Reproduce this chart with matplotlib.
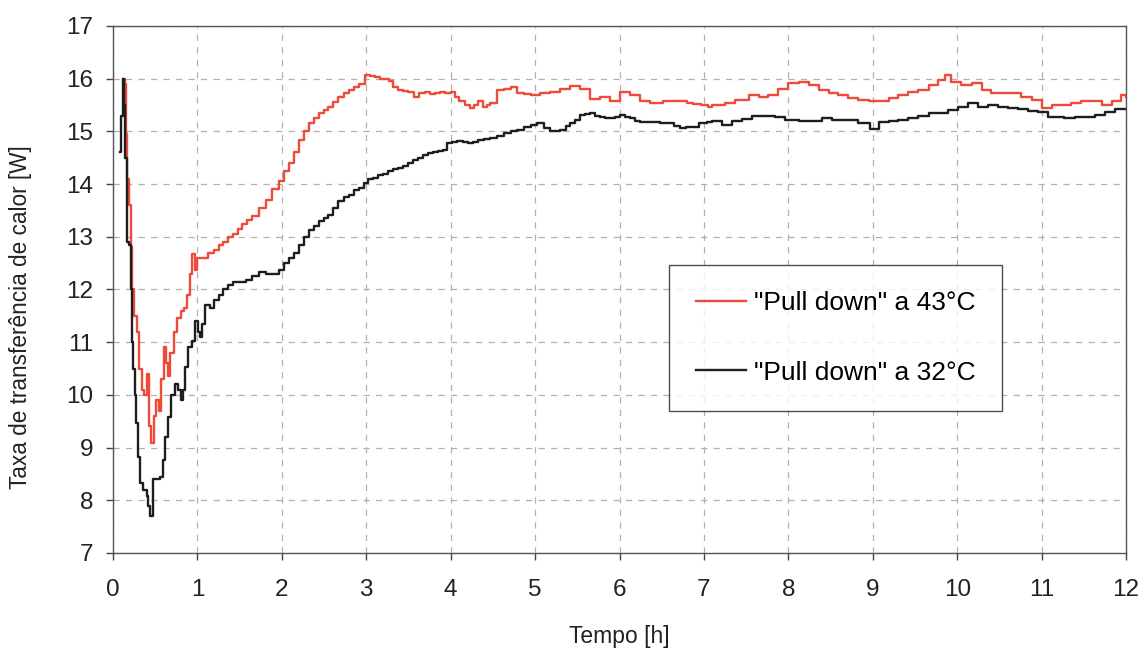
import matplotlib
matplotlib.use("Agg")
import matplotlib.pyplot as plt

plt.rcParams['font.family'] = ['Liberation Sans', 'DejaVu Sans']

# Heat transfer rate during pull down, 43 °C ambient
t_43 = [0.12, 0.14, 0.155, 0.17, 0.19, 0.21, 0.23, 0.25, 0.28, 0.31, 0.34, 0.37,
        0.40, 0.43, 0.45, 0.48, 0.51, 0.54, 0.57, 0.60, 0.63, 0.65, 0.68, 0.72,
        0.76, 0.80, 0.84, 0.88, 0.91, 0.94, 0.97, 1.00, 1.06, 1.12, 1.19, 1.25,
        1.30, 1.36, 1.42, 1.48, 1.53, 1.59, 1.65, 1.73, 1.81, 1.88, 1.96, 2.02,
        2.08, 2.14, 2.20, 2.26, 2.32, 2.38, 2.44, 2.50, 2.55, 2.61, 2.67, 2.73,
        2.79, 2.85, 2.91, 2.98, 3.04, 3.10, 3.16, 3.22, 3.27, 3.32, 3.38, 3.44,
        3.49, 3.57, 3.63, 3.69, 3.75, 3.81, 3.87, 3.93, 4.00, 4.05, 4.10, 4.17,
        4.23, 4.28, 4.32, 4.38, 4.43, 4.47, 4.55, 4.63, 4.71, 4.79, 4.87, 4.95,
        5.06, 5.18, 5.30, 5.41, 5.53, 5.65, 5.77, 5.89, 6.00, 6.12, 6.24, 6.36,
        6.52, 6.67, 6.80, 6.87, 6.97, 7.05, 7.10, 7.25, 7.37, 7.53, 7.65, 7.76,
        7.88, 8.00, 8.12, 8.24, 8.36, 8.48, 8.59, 8.71, 8.83, 8.95, 9.07, 9.19,
        9.30, 9.42, 9.54, 9.66, 9.77, 9.85, 9.93, 10.05, 10.17, 10.29, 10.40,
        10.52, 10.64, 10.76, 10.88, 11.00, 11.12, 11.23, 11.35, 11.47, 11.59,
        11.71, 11.83, 11.94, 12.00]
q_43 = [16.0, 15.9, 14.95, 14.1, 13.6, 12.8, 12.0, 11.5, 11.2, 10.5, 10.1, 10.0,
        10.4, 9.4, 9.08, 9.6, 9.9, 9.7, 10.3, 10.9, 10.6, 10.35, 10.8, 11.2,
        11.45, 11.6, 11.65, 11.9, 12.3, 12.67, 12.36, 12.6, 12.6, 12.7, 12.75, 12.85,
        12.9, 13.0, 13.05, 13.15, 13.24, 13.32, 13.4, 13.55, 13.7, 13.9, 14.05, 14.25,
        14.4, 14.6, 14.84, 15.0, 15.15, 15.25, 15.34, 15.4, 15.46, 15.55, 15.65, 15.72,
        15.78, 15.85, 15.9, 16.07, 16.05, 16.04, 16.0, 16.0, 15.95, 15.85, 15.78, 15.76,
        15.75, 15.66, 15.72, 15.75, 15.7, 15.72, 15.75, 15.72, 15.75, 15.65, 15.57, 15.5,
        15.44, 15.5, 15.57, 15.47, 15.5, 15.53, 15.78, 15.8, 15.84, 15.72, 15.7, 15.69,
        15.72, 15.75, 15.81, 15.87, 15.81, 15.62, 15.66, 15.57, 15.75, 15.69, 15.57, 15.53,
        15.57, 15.57, 15.53, 15.52, 15.5, 15.46, 15.5, 15.54, 15.6, 15.69, 15.66, 15.69,
        15.81, 15.91, 15.94, 15.88, 15.78, 15.72, 15.69, 15.63, 15.6, 15.57, 15.57, 15.63,
        15.69, 15.75, 15.78, 15.88, 15.97, 16.06, 15.94, 15.88, 15.91, 15.78, 15.72,
        15.72, 15.72, 15.66, 15.6, 15.44, 15.5, 15.5, 15.54, 15.57, 15.57,
        15.5, 15.57, 15.69, 15.65]

# Heat transfer rate during pull down, 32 °C ambient
t_32 = [0.08, 0.09, 0.115, 0.13, 0.142, 0.16, 0.17, 0.19, 0.21, 0.22, 0.24, 0.26,
        0.27, 0.30, 0.32, 0.36, 0.40, 0.42, 0.44, 0.47, 0.52, 0.56, 0.59, 0.62,
        0.65, 0.69, 0.73, 0.77, 0.80, 0.83, 0.85, 0.89, 0.93, 0.97, 1.01, 1.03,
        1.05, 1.09, 1.15, 1.20, 1.25, 1.30, 1.36, 1.42, 1.50, 1.57, 1.65, 1.73,
        1.81, 1.89, 1.96, 2.02, 2.08, 2.14, 2.20, 2.26, 2.32, 2.38, 2.44, 2.50,
        2.55, 2.61, 2.67, 2.73, 2.79, 2.85, 2.91, 2.97, 3.02, 3.08, 3.14, 3.20,
        3.26, 3.32, 3.38, 3.44, 3.49, 3.55, 3.61, 3.67, 3.73, 3.79, 3.85, 3.91,
        3.96, 4.02, 4.08, 4.14, 4.20, 4.26, 4.32, 4.40, 4.47, 4.55, 4.63, 4.71,
        4.79, 4.87, 4.95, 5.02, 5.10, 5.18, 5.24, 5.30, 5.36, 5.41, 5.47, 5.53,
        5.59, 5.65, 5.71, 5.77, 5.83, 5.89, 5.95, 6.00, 6.06, 6.12, 6.18, 6.24,
        6.32, 6.40, 6.48, 6.56, 6.64, 6.71, 6.79, 6.87, 6.94, 7.03, 7.10, 7.21,
        7.33, 7.45, 7.57, 7.72, 7.84, 7.96, 8.12, 8.28, 8.40, 8.52, 8.67, 8.83,
        8.97, 9.07, 9.19, 9.30, 9.42, 9.54, 9.66, 9.77, 9.89, 10.01, 10.13, 10.25,
        10.36, 10.48, 10.60, 10.72, 10.84, 10.96, 11.08, 11.20, 11.27, 11.39, 11.51,
        11.63, 11.75, 11.87, 11.97, 12.00]
q_32 = [14.6, 15.3, 16.0, 15.5, 14.5, 13.6, 12.9, 12.85, 12.0, 11.0, 10.5, 10.0,
        9.46, 8.83, 8.33, 8.2, 8.08, 7.9, 7.7, 8.4, 8.4, 8.45, 8.77, 9.2,
        9.58, 10.0, 10.2, 10.1, 9.9, 10.1, 10.53, 10.9, 11.03, 11.4, 11.2, 11.1,
        11.35, 11.7, 11.65, 11.8, 11.9, 12.0, 12.08, 12.14, 12.15, 12.17, 12.25, 12.33,
        12.3, 12.3, 12.36, 12.5, 12.6, 12.7, 12.85, 13.0, 13.12, 13.2, 13.3, 13.35,
        13.42, 13.55, 13.68, 13.75, 13.8, 13.88, 13.93, 14.02, 14.09, 14.12, 14.18, 14.2,
        14.24, 14.28, 14.31, 14.35, 14.4, 14.45, 14.5, 14.55, 14.59, 14.6, 14.62, 14.65,
        14.78, 14.8, 14.81, 14.8, 14.78, 14.8, 14.84, 14.85, 14.87, 14.92, 14.97, 15.0,
        15.03, 15.08, 15.12, 15.15, 15.06, 15.0, 15.0, 15.03, 15.1, 15.15, 15.22, 15.31,
        15.33, 15.34, 15.3, 15.28, 15.26, 15.25, 15.28, 15.31, 15.28, 15.25, 15.2, 15.18,
        15.18, 15.18, 15.16, 15.15, 15.1, 15.06, 15.08, 15.09, 15.15, 15.18, 15.2, 15.12,
        15.2, 15.24, 15.3, 15.3, 15.28, 15.22, 15.19, 15.19, 15.25, 15.22, 15.22, 15.16,
        15.05, 15.18, 15.19, 15.22, 15.25, 15.3, 15.34, 15.35, 15.41, 15.47, 15.53, 15.47,
        15.5, 15.47, 15.44, 15.43, 15.38, 15.36, 15.28, 15.27, 15.25, 15.28, 15.28,
        15.31, 15.37, 15.42, 15.43, 15.43]

x_ticks = list(range(0, 13))
y_ticks = list(range(7, 18))
label_43 = '"Pull down" a 43°C'
label_32 = '"Pull down" a 32°C'

fig = plt.figure(figsize=(11.43, 6.49), dpi=100)
ax = fig.add_axes([0.0989, 0.148, 0.8863, 0.812])

ax.plot(t_43, q_43, drawstyle='steps-post', color='#ee4b3a', lw=1.7,
        label=label_43, zorder=3)
ax.plot(t_32, q_32, drawstyle='steps-post', color='#1e1e1e', lw=1.7,
        label=label_32, zorder=3)

ax.set_xlim(0, 12)
ax.set_ylim(7, 17)
ax.set_xticks(x_ticks)
ax.set_yticks(y_ticks)
ax.tick_params(axis='both', direction='out', length=5, width=1.0,
               colors='#444444', labelcolor='#222222', labelsize=17.5)
ax.tick_params(axis='x', pad=14)
ax.tick_params(axis='y', pad=9)

ax.grid(True, color='#b0b0b0', linestyle=(0, (5, 5)), linewidth=0.9)
ax.set_axisbelow(True)
for sp in ax.spines.values():
    sp.set_color('#555555')
    sp.set_linewidth(1.0)

ax.set_xlabel('Tempo [h]', fontsize=16.5, color='#222222', labelpad=17)
ax.set_ylabel('Taxa de transferência de calor [W]', fontsize=16.3,
              color='#222222')
ax.yaxis.set_label_coords(-0.080, 0.448)

leg = ax.legend(loc='upper left', bbox_to_anchor=(0.549, 0.5465),
                fontsize=19, frameon=True, fancybox=False, shadow=False,
                handlelength=1.9, handletextpad=0.3, labelspacing=1.72,
                borderpad=1.0, borderaxespad=0.0)
leg.get_frame().set_edgecolor('#222222')
leg.get_frame().set_linewidth(1.0)
for line in leg.get_lines():
    line.set_linewidth(1.7)

fig.savefig('out.png', dpi=100, facecolor='white')
